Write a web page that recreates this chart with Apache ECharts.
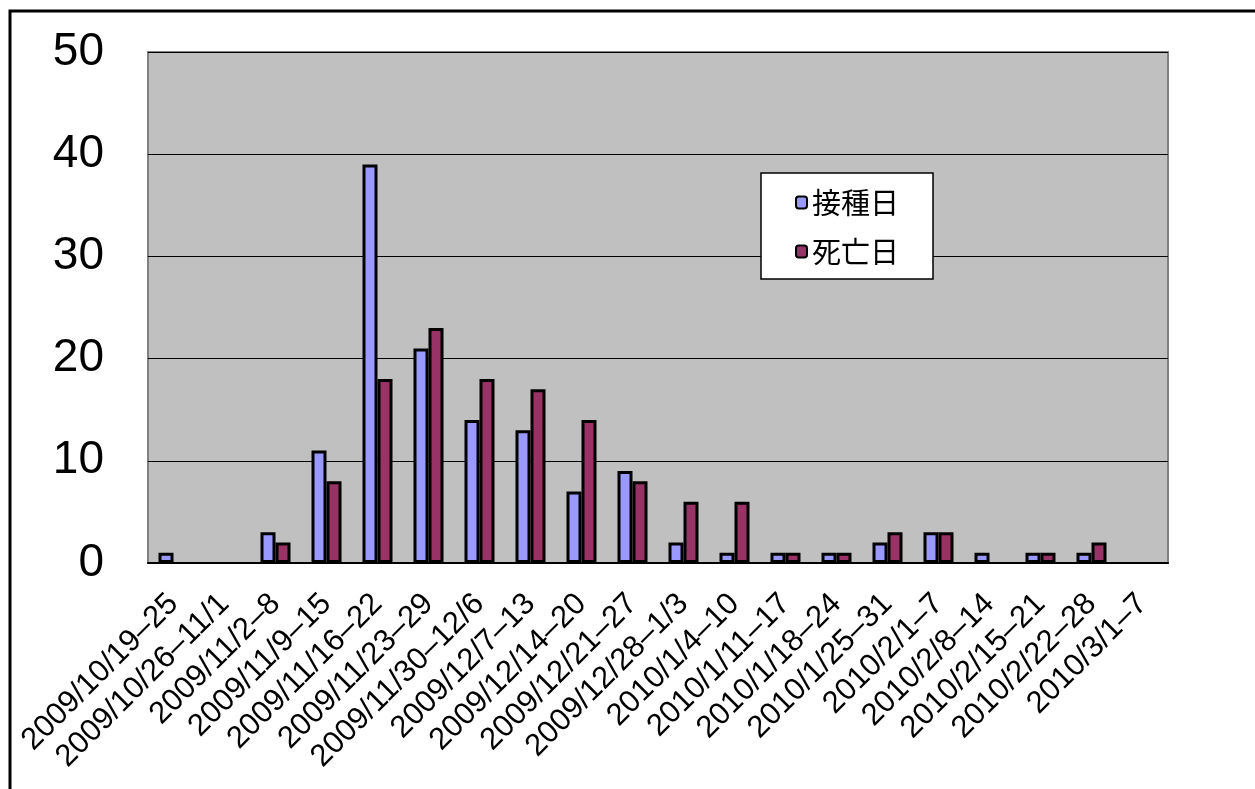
<!DOCTYPE html>
<html><head><meta charset="utf-8">
<script src="https://cdn.jsdelivr.net/npm/echarts@6/dist/echarts.min.js"></script>
<style>html,body{margin:0;padding:0;background:#fff}#c{width:1255px;height:789px}</style>
</head><body><div id="c"></div>
<script>
const categories = ["2009/10/19–25","2009/10/26–11/1","2009/11/2–8","2009/11/9–15","2009/11/16–22","2009/11/23–29","2009/11/30–12/6","2009/12/7–13","2009/12/14–20","2009/12/21–27","2009/12/28–1/3","2010/1/4–10","2010/1/11–17","2010/1/18–24","2010/1/25–31","2010/2/1–7","2010/2/8–14","2010/2/15–21","2010/2/22–28","2010/3/1–7"];
const vaccination = [1,0,3,11,39,21,14,13,7,9,2,1,1,1,2,3,1,1,1,0];
const death = [0,0,2,8,18,23,18,17,14,8,6,6,1,1,3,3,0,1,2,0];
const yTicks = [0,10,20,30,40,50];

const chart = echarts.init(document.getElementById('c'));
const font = '"Liberation Sans", Arial, sans-serif';
const hideZero = arr => arr.map(v => v === 0 ? '-' : v);
chart.setOption({
  animation:false,
  backgroundColor:'#fff',
  graphic:[{type:'rect',shape:{x:10,y:11,width:1400,height:900},style:{fill:'none',stroke:'#000',lineWidth:3},z:100}],
  grid:{left:148,top:52,right:87,bottom:226,show:true,backgroundColor:'#c0c0c0',borderColor:'#808080',borderWidth:2},
  legend:{orient:'vertical',left:761,top:173,padding:[15,34,13,34],itemGap:20,itemWidth:11,itemHeight:12,
    backgroundColor:'#fff',borderColor:'#000',borderWidth:1.5,
    textStyle:{fontFamily:'"Noto Sans CJK JP", sans-serif',fontSize:29,color:'#000'},
    data:['接種日','死亡日']},
  xAxis:{type:'category',data:categories,
    axisLine:{lineStyle:{color:'#000',width:2}},
    axisTick:{inside:true,length:7,lineStyle:{color:'#000'}},
    axisLabel:{rotate:45,interval:0,fontSize:31,fontFamily:font,color:'#000',margin:36}},
  yAxis:{type:'value',min:0,max:50,interval:10,
    axisLine:{show:true,lineStyle:{color:'#808080',width:2}},
    axisTick:{show:true,inside:true,length:14,lineStyle:{color:'#000'}},
    splitLine:{lineStyle:{color:'#000',width:1}},
    axisLabel:{fontSize:46,fontFamily:font,color:'#000',margin:44,
      formatter:v=>yTicks.includes(v)?String(v):''}},
  series:[
    {name:'接種日',type:'bar',data:hideZero(vaccination),barWidth:15,barGap:'0%',
     itemStyle:{color:'#9999ff',borderColor:'#000',borderWidth:3}},
    {name:'死亡日',type:'bar',data:hideZero(death),barWidth:15,barGap:'0%',
     itemStyle:{color:'#993366',borderColor:'#000',borderWidth:3}}
  ]
});
</script></body></html>
